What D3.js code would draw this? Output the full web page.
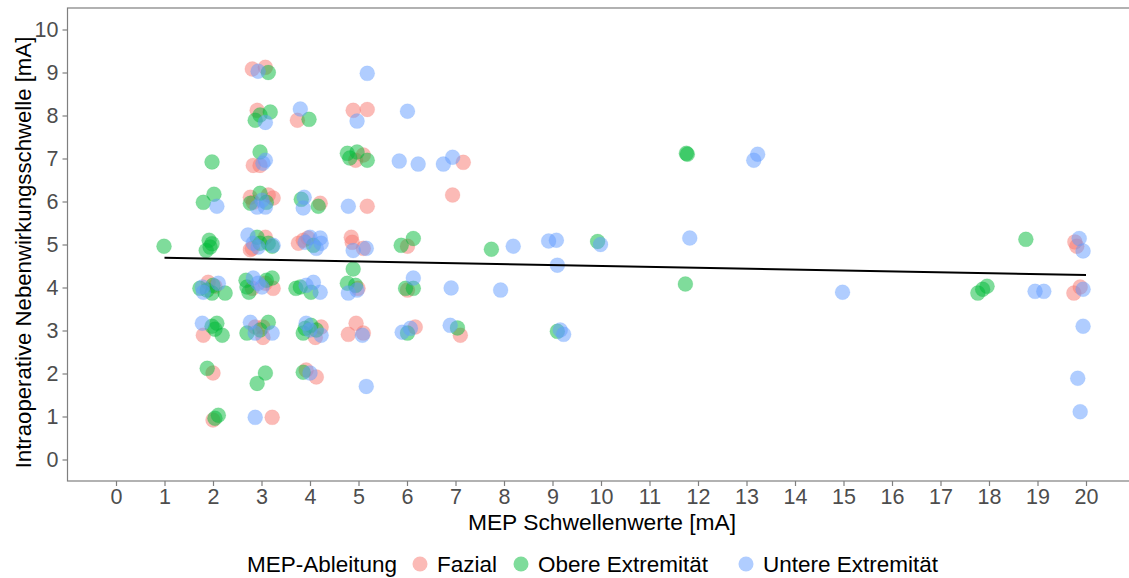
<!DOCTYPE html>
<html lang="de">
<head>
<meta charset="UTF-8">
<title>MEP Schwellenwerte</title>
<script src="https://d3js.org/d3.v7.min.js"></script>
<style>
    body { margin: 0; background: #fff; }
    text { font-family: "Liberation Sans", Arial, sans-serif; }
</style>
</head>
<body>
<div id="chart"></div>
<script>
// Data (jittered positions)
const groups = ["Fazial", "Obere Extremität", "Untere Extremität"];
const colors = ["#F8766D", "#00BA38", "#619CFF"];

const fazialX = [2.04,1.80,2.00,2.00,1.90, 2.81,3.08,2.91,2.83,2.97,2.77,3.14,3.24,2.83,3.08,2.81,2.77,2.81,3.24,3.08,2.87,3.03,3.03,3.22,
    3.74,3.76,3.86,3.96,4.21,4.23,4.11,3.92,4.13, 4.89,5.18,5.10,4.94,5.18,4.85,4.87,5.10,4.99,4.95,4.79,5.10,
    6.01,6.01,6.17, 7.16,6.94,7.10, 19.77,19.81,19.75,19.88];
const fazialY = [4.03,2.89,2.01,0.92,4.12, 9.08,9.12,8.12,6.84,6.84,6.10,6.15,6.08,5.98,5.17,4.91,4.88,3.98,3.98,4.10,3.08,3.08,2.84,0.98,
    7.89,5.03,5.10,5.15,5.96,3.08,2.84,2.08,1.92, 8.12,8.14,7.08,6.96,5.89,5.17,5.05,4.91,3.98,3.17,2.91,2.94,
    4.96,3.94,3.08, 6.91,6.15,2.89, 5.06,4.96,3.87,4.01];

const obereX = [0.99, 1.98,1.80,2.02,1.92,1.94,1.86,1.98,1.73,1.98,2.00,2.25,1.88,1.98,2.08,2.19,2.04,1.88,2.04,2.11,
    3.14,2.87,3.18,2.97,2.97,2.97,2.77,3.10,2.91,2.97,3.14,3.22,2.68,3.10,3.22,2.70,2.74,2.70,3.14,2.97,2.91,3.08,
    3.98,3.82,4.17,4.07,3.71,3.80,4.02,4.02,3.86,4.13,3.90,3.86, 4.77,4.97,5.18,4.82,4.89,4.77,4.94,
    6.13,5.88,5.97,6.13,6.01, 7.04, 7.74,9.10,9.93,11.76,11.78,11.74,17.77,17.87,17.96,18.76];
const obereY = [4.96, 6.92,5.98,6.17,5.10,4.94,4.86,5.02,3.98,3.87,4.05,3.87,3.94,3.10,3.17,2.89,3.03,2.12,0.96,1.03,
    9.00,7.89,8.08,8.01,7.15,6.19,5.96,5.98,5.17,5.03,5.03,4.96,4.17,4.17,4.22,4.01,3.89,2.94,3.19,3.01,1.77,2.01,
    7.91,6.05,5.89,4.98,3.98,4.01,3.89,3.12,2.94,3.01,3.05,2.03, 7.12,7.15,6.96,7.01,4.43,4.10,4.05,
    5.14,4.98,3.98,3.98,2.94, 3.06, 4.89,2.98,5.07,7.12,7.10,4.08,3.87,3.96,4.03,5.12];

const untereX = [2.08,1.78,2.11,1.78,1.80,
    2.93,3.08,3.08,3.03,2.91,3.08,3.01,2.72,3.24,2.83,2.93,2.83,2.93,3.01,2.77,3.22,2.87,2.87,
    3.80,3.88,3.86,4.00,4.21,4.13,4.23,3.90,3.92,4.07,4.21,3.92,4.23,4.00,4.00,
    5.18,4.97,4.79,4.89,5.16,4.79,4.97,5.08,5.16, 6.01,5.84,6.23,6.13,5.90,6.07,
    6.75,6.94,6.91,6.89, 8.19,7.93,8.92,9.08,9.10,9.16,9.23,9.99,11.83,13.15,13.23,14.98,
    18.95,19.13,19.86,19.94,19.94,19.94,19.83,19.88];
const untereY = [5.89,4.01,4.10,3.17,3.89,
    9.03,7.84,6.96,6.89,5.87,5.87,6.03,5.22,4.98,5.03,4.94,4.22,4.10,4.01,3.19,2.94,2.94,0.98,
    8.15,6.10,5.85,5.17,5.15,4.91,5.03,5.05,4.05,4.12,3.89,3.17,2.89,3.01,2.01,
    8.98,7.87,5.89,4.86,4.91,3.87,3.94,2.89,1.70, 8.10,6.94,6.87,4.22,2.96,3.05,
    6.87,7.03,3.99,3.12, 4.96,3.94,5.08,5.10,4.52,3.01,2.91,5.00,5.15,6.96,7.10,3.89,
    3.91,3.91,5.14,4.85,3.96,3.10,1.89,1.11];

// fitted line (lm)
const fitX = [1, 20];
const fitY = [4.69, 4.29];

const xTicks = d3.range(0, 21);
const yTicks = d3.range(0, 11);

const W = 1129, H = 578;
const panel = {left: 67.5, right: 1134.5, top: 8, bottom: 481};

const svg = d3.select("#chart").append("svg")
    .attr("width", W).attr("height", H);

const x = d3.scaleLinear().domain([-1, 21]).range([panel.left, panel.right]);
const y = d3.scaleLinear().domain([-0.5, 10.5]).range([panel.bottom, panel.top]);
const color = d3.scaleOrdinal().domain(groups).range(colors);

// points
const series = [
    {name: groups[0], xs: fazialX, ys: fazialY},
    {name: groups[1], xs: obereX, ys: obereY},
    {name: groups[2], xs: untereX, ys: untereY}
];
const points = [];
series.forEach(s => s.xs.forEach((v, i) => points.push({g: s.name, x: v, y: s.ys[i]})));

svg.append("g").selectAll("circle")
    .data(points)
    .enter().append("circle")
    .attr("cx", d => x(d.x))
    .attr("cy", d => y(d.y))
    .attr("r", 7.5)
    .attr("fill", d => color(d.g))
    .attr("fill-opacity", 0.5)
    .attr("stroke", d => color(d.g))
    .attr("stroke-opacity", 0.25)
    .attr("stroke-width", 0.5);

// regression line
svg.append("path")
    .datum(fitX.map((v, i) => [v, fitY[i]]))
    .attr("fill", "none")
    .attr("stroke", "#000")
    .attr("stroke-width", 2)
    .attr("d", d3.line().x(d => x(d[0])).y(d => y(d[1])));

// panel border
svg.append("rect")
    .attr("x", panel.left).attr("y", panel.top)
    .attr("width", panel.right - panel.left).attr("height", panel.bottom - panel.top)
    .attr("fill", "none").attr("stroke", "#7f7f7f").attr("stroke-width", 1.2);

// axes
const xAxis = svg.append("g")
    .attr("transform", "translate(0," + panel.bottom + ")")
    .call(d3.axisBottom(x).tickValues(xTicks).tickSize(5).tickSizeOuter(0).tickPadding(3));
const yAxis = svg.append("g")
    .attr("transform", "translate(" + panel.left + ",0)")
    .call(d3.axisLeft(y).tickValues(yTicks).tickSize(5).tickSizeOuter(0).tickPadding(4));

[xAxis, yAxis].forEach(a => {
    a.select(".domain").remove();
    a.selectAll(".tick line").attr("stroke", "#7f7f7f").attr("stroke-width", 1.2);
    a.selectAll(".tick text")
        .attr("fill", "#4d4d4d")
        .style("font-size", "21.5px")
        .style("font-family", "'Liberation Sans', Arial, sans-serif");
});

// axis titles
svg.append("text")
    .attr("x", (panel.left + panel.right) / 2 + 1)
    .attr("y", 530)
    .attr("text-anchor", "middle")
    .style("font-size", "22.8px")
    .text("MEP Schwellenwerte [mA]");

svg.append("text")
    .attr("transform", "translate(31," + ((panel.top + panel.bottom) / 2 + 8) + ") rotate(-90)")
    .attr("text-anchor", "middle")
    .style("font-size", "22.2px")
    .text("Intraoperative Nebenwirkungsschwelle [mA]");

// legend
const legend = svg.append("g");
legend.append("text")
    .attr("x", 247).attr("y", 572)
    .style("font-size", "22.5px")
    .text("MEP-Ableitung");

const keyX = [420, 521, 746];
groups.forEach((g, i) => {
    legend.append("circle")
        .attr("cx", keyX[i]).attr("cy", 564)
        .attr("r", 7.5)
        .attr("fill", color(g)).attr("fill-opacity", 0.5);
    legend.append("text")
        .attr("x", keyX[i] + 17).attr("y", 572)
        .style("font-size", "22.5px")
        .text(g);
});
</script>
</body>
</html>
